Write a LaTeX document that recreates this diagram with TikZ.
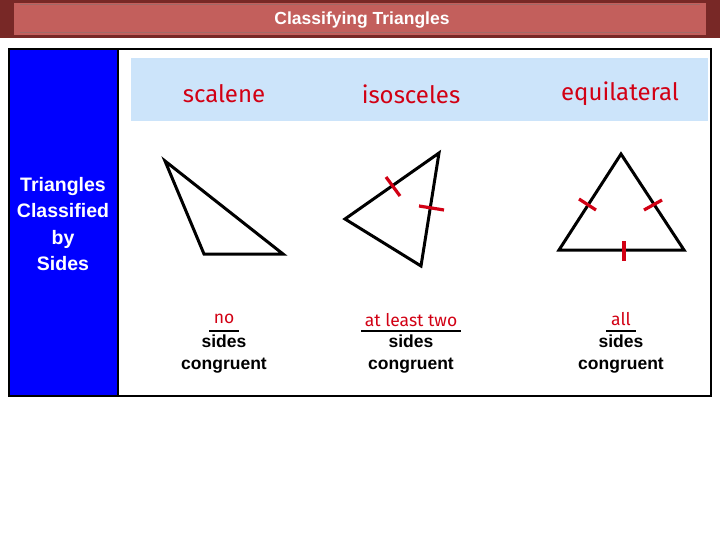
\documentclass[tikz,border=0pt]{standalone}
\usepackage{fontspec}
\setmainfont{Liberation Sans}
\newfontfamily\comic{Fira Sans}
\definecolor{barred}{RGB}{195,95,92}
\definecolor{bardark}{RGB}{120,40,38}
\definecolor{hdrblue}{RGB}{204,228,250}
\definecolor{mred}{RGB}{210,0,20}
\begin{document}
\begin{tikzpicture}[x=1pt,y=-1pt,
  tri/.style={draw=black,line width=3pt,line join=miter},
  tick/.style={draw=mred,line width=3.2pt},
  hdr/.style={text=mred,font=\comic\fontsize{24}{26}\selectfont},
  red/.style={text=mred,font=\comic\fontsize{17.5}{18}\selectfont},
  blk/.style={text=black,font=\bfseries\fontsize{17.5}{22}\selectfont},
  uline/.style={draw=black,line width=1.5pt}]
\useasboundingbox (0,0) rectangle (720,540);
\fill[white] (0,0) rectangle (720,540);
% title bar
\fill[bardark] (0,0) rectangle (720,38);
\fill[barred] (14,3) rectangle (706,35);
\draw[bardark!70,line width=1pt] (20,5) -- (700,5);
\draw[bardark!70,line width=1pt] (20,33) -- (700,33);
\node[text=white,font=\bfseries\fontsize{17.5}{18}\selectfont] (title) at (362,20) {Classifying Triangles};
% frame
\fill[blue] (9,49) rectangle (118,396);
\draw[black,line width=2.5pt] (9,49) rectangle (711,396);
\draw[black,line width=1.5pt] (118,49) -- (118,396);
\fill[hdrblue] (131,58) rectangle (708,121);
\node[text=white,font=\bfseries\fontsize{19.5}{26.5}\selectfont,align=center] (side) at (63,224) {Triangles\\Classified\\by\\Sides};
\node[hdr] (h1) at (224,94) {scalene};
\node[hdr] (h2) at (411,94) {isosceles};
\node[hdr] (h3) at (620,94) {equilateral};
% triangles
\draw[tri] (165,161) -- (204,254) -- (283,254) -- cycle;
\draw[tri] (439,153) -- (345,219) -- (421,266) -- cycle;
\draw[tick] (386,177) -- (400,196);
\draw[tick] (419,206) -- (444,210);
\draw[tri] (621,154) -- (559,250) -- (684,250) -- cycle;
\draw[tick] (579,199) -- (596,210);
\draw[tick] (644,210) -- (662,200);
\draw[tick] (624,241) -- (624,261);
% labels
\node[red] (n1) at (224,319) {no};
\draw[uline] (209,331) -- (239,331);
\node[blk,align=center] (s1) at (224,354) {sides\\congruent};
\node[red] (n2) at (411,320) {at least two};
\draw[uline] (361,331) -- (461,331);
\node[blk,align=center] (s2) at (411,354) {sides\\congruent};
\node[red] (n3) at (621,319) {all};
\draw[uline] (606,331) -- (636,331);
\node[blk,align=center] (s3) at (621,354) {sides\\congruent};
\end{tikzpicture}
\end{document}
